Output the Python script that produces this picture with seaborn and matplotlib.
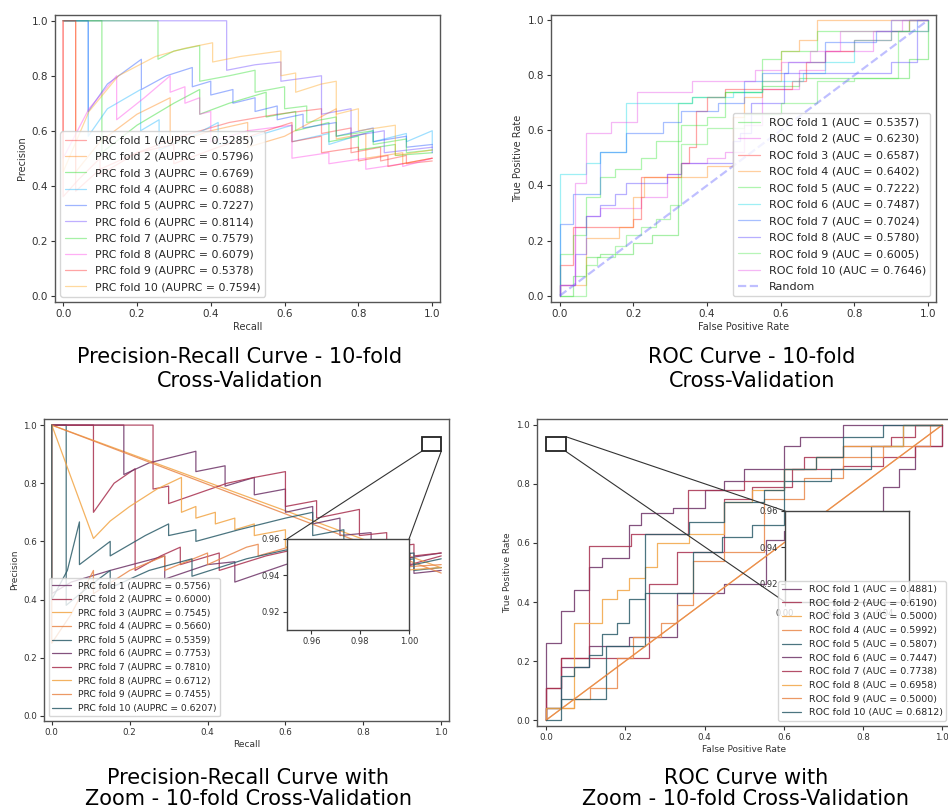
import matplotlib.pyplot as plt
import seaborn as sns
from matplotlib.patches import Rectangle, ConnectionPatch
from matplotlib.ticker import MultipleLocator

# ---- fold scores (legend values) ----
tl_auprc = [0.5285, 0.5796, 0.6769, 0.6088, 0.7227, 0.8114, 0.7579, 0.6079, 0.5378, 0.7594]
tr_auc = [0.5357, 0.6230, 0.6587, 0.6402, 0.7222, 0.7487, 0.7024, 0.5780, 0.6005, 0.7646]
bl_auprc = [0.5756, 0.6000, 0.7545, 0.5660, 0.5359, 0.7753, 0.7810, 0.6712, 0.7455, 0.6207]
br_auc = [0.4881, 0.6190, 0.5000, 0.5992, 0.5807, 0.7447, 0.7738, 0.6958, 0.5000, 0.6812]

# ---- top left: precision-recall, 10 folds ----
tl_recall = [
    [0, 0, 0.04, 0.10, 0.10, 0.20, 0.32, 0.45, 0.58, 0.70, 0.70, 0.78, 0.78, 0.86, 0.86, 0.93, 0.93, 1.0],
    [0, 0.034, 0.034, 0.10, 0.20, 0.29, 0.29, 0.40, 0.50, 0.50, 0.60, 0.74, 0.74, 0.82, 0.82, 0.92, 0.92, 1.0],
    [0, 0.105, 0.105, 0.20, 0.30, 0.37, 0.37, 0.45, 0.55, 0.55, 0.63, 0.63, 0.72, 0.72, 0.80, 0.80, 0.90, 0.90, 1.0],
    [0, 0.068, 0.068, 0.12, 0.21, 0.21, 0.26, 0.26, 0.35, 0.42, 0.42, 0.52, 0.62, 0.62, 0.72, 0.72, 0.84, 0.84, 0.93, 0.93, 1.0, 1.0],
    [0, 0.068, 0.068, 0.12, 0.212, 0.212, 0.28, 0.35, 0.35, 0.40, 0.40, 0.46, 0.46, 0.52, 0.52, 0.58, 0.58, 0.65, 0.65,
     0.74, 0.74, 0.84, 0.84, 0.93, 0.93, 1.0, 1.0],
    [0, 0.443, 0.443, 0.52, 0.59, 0.59, 0.70, 0.70, 0.78, 0.78, 0.87, 0.87, 1.0],
    [0, 0.257, 0.257, 0.30, 0.37, 0.37, 0.45, 0.52, 0.52, 0.60, 0.60, 0.66, 0.66, 0.74, 0.74, 0.84, 0.84, 0.93, 0.93, 1.0],
    [0, 0, 0.07, 0.145, 0.145, 0.22, 0.29, 0.29, 0.33, 0.33, 0.37, 0.37, 0.40, 0.40, 0.50, 0.62, 0.62, 0.72, 0.72, 0.82,
     0.82, 0.92, 0.92, 1.0],
    [0, 0.034, 0.034, 0.10, 0.20, 0.30, 0.30, 0.42, 0.55, 0.62, 0.62, 0.70, 0.70, 0.80, 0.80, 0.88, 0.88, 1.0],
    [0, 0, 0.07, 0.15, 0.25, 0.33, 0.405, 0.405, 0.48, 0.59, 0.59, 0.63, 0.63, 0.70, 0.74, 0.74, 0.80, 0.80, 0.90, 0.90, 1.0],
]
tl_precision = [
    [1.0, 0.36, 0.42, 0.50, 0.44, 0.52, 0.58, 0.63, 0.66, 0.68, 0.59, 0.61, 0.52, 0.54, 0.49, 0.51, 0.48, 0.49],
    [1.0, 1.0, 0.45, 0.56, 0.66, 0.72, 0.55, 0.60, 0.63, 0.54, 0.58, 0.68, 0.57, 0.59, 0.50, 0.52, 0.48, 0.50],
    [1.0, 1.0, 0.52, 0.62, 0.70, 0.75, 0.66, 0.70, 0.74, 0.65, 0.67, 0.60, 0.63, 0.56, 0.58, 0.53, 0.55, 0.51, 0.52],
    [1.0, 1.0, 0.58, 0.68, 0.75, 0.60, 0.64, 0.53, 0.58, 0.63, 0.55, 0.58, 0.62, 0.56, 0.59, 0.55, 0.60, 0.56, 0.59, 0.56, 0.60, 0.55],
    [1.0, 1.0, 0.67, 0.77, 0.86, 0.75, 0.80, 0.83, 0.76, 0.78, 0.73, 0.75, 0.70, 0.72, 0.67, 0.69, 0.64, 0.66, 0.61,
     0.63, 0.58, 0.61, 0.56, 0.58, 0.54, 0.55, 0.52],
    [1.0, 1.0, 0.82, 0.84, 0.85, 0.78, 0.80, 0.66, 0.68, 0.58, 0.60, 0.52, 0.54],
    [1.0, 1.0, 0.86, 0.89, 0.91, 0.78, 0.80, 0.82, 0.74, 0.76, 0.68, 0.69, 0.63, 0.65, 0.58, 0.60, 0.55, 0.57, 0.52, 0.53],
    [1.0, 0.50, 0.68, 0.80, 0.64, 0.72, 0.80, 0.74, 0.76, 0.70, 0.72, 0.66, 0.67, 0.56, 0.60, 0.62, 0.50, 0.52, 0.48, 0.50,
     0.46, 0.48, 0.47, 0.50],
    [1.0, 1.0, 0.38, 0.46, 0.52, 0.55, 0.48, 0.54, 0.60, 0.63, 0.56, 0.58, 0.52, 0.54, 0.49, 0.51, 0.47, 0.50],
    [1.0, 0.45, 0.67, 0.80, 0.87, 0.90, 0.92, 0.85, 0.87, 0.89, 0.80, 0.81, 0.74, 0.77, 0.78, 0.66, 0.68, 0.60, 0.62, 0.51, 0.53],
]

# ---- top right: ROC, 10 folds (corners of the staircase, step drawn before each point) ----
tr_fpr = [
    [0, 0.035, 0.07, 0.11, 0.20, 0.25, 0.32, 0.36, 0.45, 0.55, 0.65, 0.75, 0.95, 1.0, 1.0],
    [0, 0.04, 0.07, 0.11, 0.22, 0.29, 0.33, 0.40, 0.45, 0.50, 0.55, 0.65, 0.72, 0.85, 0.93, 1.0],
    [0, 0.035, 0.20, 0.22, 0.33, 0.35, 0.37, 0.40, 0.45, 0.63, 0.67, 0.72, 0.80, 0.90, 0.95, 1.0],
    [0, 0.07, 0.16, 0.20, 0.23, 0.40, 0.47, 0.50, 0.55, 0.60, 0.65, 0.70, 1.0],
    [0, 0.035, 0.07, 0.11, 0.15, 0.22, 0.26, 0.33, 0.40, 0.45, 0.55, 0.60, 0.70, 0.78, 0.95, 1.0],
    [0, 0.07, 0.11, 0.18, 0.36, 0.47, 0.55, 0.66, 0.72, 0.80, 0.90, 1.0],
    [0, 0.035, 0.11, 0.18, 0.28, 0.33, 0.43, 0.50, 0.55, 0.62, 0.72, 0.86, 0.97, 1.0],
    [0, 0.04, 0.07, 0.11, 0.15, 0.18, 0.29, 0.33, 0.47, 0.49, 0.52, 0.61, 0.78, 0.90, 0.97, 1.0, 1.0],
    [0, 0.07, 0.10, 0.15, 0.18, 0.22, 0.26, 0.30, 0.33, 0.40, 0.50, 0.60, 0.70, 0.80, 0.92, 1.0, 1.0],
    [0, 0.04, 0.07, 0.14, 0.21, 0.36, 0.53, 0.60, 0.68, 0.76, 0.90, 1.0],
]
tr_tpr = [
    [0, 0.0, 0.07, 0.14, 0.15, 0.19, 0.22, 0.70, 0.72, 0.74, 0.76, 0.79, 0.79, 0.86, 1.0],
    [0, 0.04, 0.25, 0.29, 0.32, 0.36, 0.44, 0.48, 0.50, 0.52, 0.62, 0.75, 0.82, 0.89, 0.96, 1.0],
    [0, 0.11, 0.25, 0.28, 0.43, 0.48, 0.54, 0.67, 0.72, 0.75, 0.78, 0.85, 0.89, 0.93, 0.96, 1.0],
    [0, 0.04, 0.21, 0.25, 0.36, 0.43, 0.47, 0.65, 0.72, 0.78, 0.89, 0.93, 1.0],
    [0, 0.15, 0.22, 0.36, 0.43, 0.46, 0.50, 0.56, 0.62, 0.65, 0.74, 0.86, 0.89, 0.96, 0.96, 1.0],
    [0, 0.44, 0.48, 0.52, 0.70, 0.72, 0.74, 0.78, 0.81, 0.85, 0.93, 1.0],
    [0, 0.26, 0.37, 0.52, 0.59, 0.63, 0.67, 0.70, 0.78, 0.81, 0.85, 0.92, 0.96, 1.0],
    [0, 0.04, 0.15, 0.29, 0.33, 0.37, 0.41, 0.44, 0.48, 0.56, 0.59, 0.70, 0.81, 0.81, 0.85, 0.96, 1.0],
    [0, 0.0, 0.11, 0.14, 0.18, 0.22, 0.25, 0.28, 0.33, 0.55, 0.61, 0.66, 0.70, 0.78, 0.79, 0.96, 1.0],
    [0, 0.04, 0.41, 0.59, 0.63, 0.74, 0.78, 0.82, 0.85, 0.89, 0.96, 1.0],
]

# ---- bottom left: precision-recall with zoom ----
bl_recall = [
    [0, 0, 0.05, 0.15, 0.29, 0.29, 0.40, 0.47, 0.47, 0.60, 0.70, 0.75, 0.75, 0.85, 0.85, 0.93, 0.93, 1.0],
    [0, 0.107, 0.107, 0.16, 0.214, 0.214, 0.28, 0.33, 0.33, 0.43, 0.43, 0.55, 0.65, 0.70, 0.70, 0.80, 0.80, 0.92, 0.92, 1.0],
    [0, 1.0],
    [0, 0, 0.05, 0.107, 0.107, 0.20, 0.29, 0.29, 0.40, 0.40, 0.50, 0.53, 0.53, 0.66, 0.66, 0.78, 0.78, 0.88, 0.88, 1.0],
    [0, 0.037, 0.037, 0.10, 0.15, 0.15, 0.25, 0.36, 0.36, 0.50, 0.60, 0.70, 0.70, 0.82, 0.82, 0.93, 0.93, 1.0],
    [0, 0.185, 0.185, 0.25, 0.37, 0.37, 0.445, 0.445, 0.52, 0.52, 0.60, 0.60, 0.67, 0.67, 0.74, 0.74, 0.82, 0.82, 0.90, 0.90, 1.0],
    [0, 0.26, 0.26, 0.30, 0.30, 0.45, 0.52, 0.60, 0.60, 0.68, 0.68, 0.79, 0.79, 0.86, 0.86, 0.93, 0.93, 1.0],
    [0, 0.107, 0.15, 0.20, 0.27, 0.333, 0.333, 0.37, 0.37, 0.42, 0.42, 0.47, 0.47, 0.52, 0.52, 0.60, 0.60, 0.68, 0.68,
     0.78, 0.78, 0.90, 0.90, 1.0],
    [0, 1.0],
    [0, 0, 0.04, 0.071, 0.071, 0.15, 0.15, 0.24, 0.30, 0.30, 0.37, 0.37, 0.48, 0.60, 0.67, 0.67, 0.75, 0.75, 0.86, 0.86,
     0.93, 0.93, 1.0],
]
bl_precision = [
    [1.0, 0.42, 0.46, 0.50, 0.55, 0.47, 0.52, 0.53, 0.46, 0.52, 0.56, 0.58, 0.52, 0.54, 0.50, 0.52, 0.49, 0.50],
    [1.0, 1.0, 0.70, 0.80, 0.85, 0.50, 0.55, 0.58, 0.52, 0.56, 0.50, 0.55, 0.58, 0.59, 0.55, 0.58, 0.53, 0.56, 0.52, 0.55],
    [1.0, 0.509],
    [1.0, 0.25, 0.35, 0.50, 0.42, 0.50, 0.55, 0.50, 0.56, 0.52, 0.58, 0.59, 0.55, 0.60, 0.56, 0.59, 0.54, 0.56, 0.51, 0.52],
    [1.0, 1.0, 0.38, 0.45, 0.50, 0.44, 0.50, 0.54, 0.48, 0.54, 0.57, 0.58, 0.54, 0.56, 0.52, 0.54, 0.50, 0.51],
    [1.0, 1.0, 0.83, 0.87, 0.91, 0.84, 0.86, 0.79, 0.82, 0.76, 0.78, 0.70, 0.72, 0.66, 0.68, 0.62, 0.63, 0.58, 0.60, 0.54, 0.56],
    [1.0, 1.0, 0.78, 0.79, 0.73, 0.80, 0.82, 0.84, 0.72, 0.74, 0.68, 0.71, 0.62, 0.63, 0.58, 0.59, 0.55, 0.56],
    [1.0, 0.61, 0.67, 0.72, 0.78, 0.82, 0.70, 0.72, 0.68, 0.70, 0.66, 0.68, 0.64, 0.66, 0.62, 0.64, 0.58, 0.60, 0.54,
     0.56, 0.52, 0.54, 0.50, 0.51],
    [1.0, 0.491],
    [1.0, 0.40, 0.50, 0.667, 0.52, 0.60, 0.55, 0.62, 0.66, 0.62, 0.64, 0.60, 0.64, 0.68, 0.70, 0.62, 0.64, 0.58, 0.60, 0.55,
     0.56, 0.52, 0.54],
]

# ---- bottom right: ROC with zoom ----
br_fpr = [
    [0, 0.037, 0.108, 0.14, 0.21, 0.33, 0.45, 0.555, 0.60, 0.70, 0.85, 0.89, 0.93, 1.0, 1.0],
    [0, 0.037, 0.11, 0.26, 0.33, 0.37, 0.45, 0.52, 0.62, 0.75, 0.85, 0.93, 0.97, 1.0, 1.0],
    [0, 1.0],
    [0, 0.07, 0.11, 0.18, 0.22, 0.29, 0.33, 0.37, 0.45, 0.55, 0.65, 0.75, 0.85, 0.97, 1.0],
    [0, 0.037, 0.15, 0.25, 0.37, 0.445, 0.52, 0.60, 0.72, 0.82, 0.90, 1.0],
    [0, 0.037, 0.07, 0.108, 0.14, 0.21, 0.24, 0.32, 0.40, 0.45, 0.50, 0.60, 0.64, 0.75, 1.0],
    [0, 0.037, 0.108, 0.214, 0.357, 0.50, 0.60, 0.65, 0.75, 0.87, 0.93, 1.0],
    [0, 0.07, 0.14, 0.18, 0.21, 0.25, 0.28, 0.36, 0.45, 0.52, 0.60, 0.68, 0.75, 0.90, 1.0],
    [0, 1.0],
    [0, 0.037, 0.07, 0.108, 0.14, 0.18, 0.21, 0.25, 0.36, 0.45, 0.55, 0.60, 0.68, 0.75, 0.85, 1.0],
]
br_tpr = [
    [0, 0.04, 0.18, 0.25, 0.25, 0.28, 0.43, 0.46, 0.61, 0.64, 0.70, 0.79, 0.85, 0.93, 1.0],
    [0, 0.11, 0.21, 0.21, 0.46, 0.57, 0.57, 0.75, 0.79, 0.85, 0.86, 0.89, 0.93, 0.93, 1.0],
    [0, 1.0],
    [0, 0.04, 0.07, 0.11, 0.21, 0.28, 0.33, 0.39, 0.54, 0.57, 0.75, 0.82, 0.89, 0.93, 1.0],
    [0, 0.04, 0.07, 0.25, 0.43, 0.57, 0.62, 0.66, 0.81, 0.85, 0.93, 1.0],
    [0, 0.26, 0.37, 0.44, 0.52, 0.55, 0.66, 0.70, 0.72, 0.78, 0.81, 0.85, 0.93, 0.96, 1.0],
    [0, 0.11, 0.21, 0.59, 0.63, 0.78, 0.81, 0.85, 0.89, 0.93, 0.96, 1.0],
    [0, 0.04, 0.33, 0.41, 0.44, 0.48, 0.52, 0.60, 0.63, 0.74, 0.78, 0.85, 0.89, 0.93, 1.0],
    [0, 1.0],
    [0, 0.0, 0.15, 0.18, 0.22, 0.29, 0.33, 0.41, 0.63, 0.67, 0.74, 0.78, 0.85, 0.89, 0.96, 1.0],
]

# zoom windows (x range, y range)
bl_zoom = [(0.95, 1.0), (0.91, 0.96)]
br_zoom = [(0.0, 0.05), (0.91, 0.96)]

captions = [
    ("Precision-Recall Curve - 10-fold", "Cross-Validation"),
    ("ROC Curve - 10-fold", "Cross-Validation"),
    ("Precision-Recall Curve with", "Zoom - 10-fold Cross-Validation"),
    ("ROC Curve with", "Zoom - 10-fold Cross-Validation"),
]

tl_colors = ['#ff2626', '#ff7f00', '#0fd70f', '#0fb1ff', '#1146ff', '#6139ff', '#22dd22', '#ff39e6', '#ff1c1c', '#ffa011']
tr_colors = ['#25d925', '#e646e6', '#ff1c1c', '#ff8911', '#39e639', '#11d9e6', '#2561ff', '#4d39ff', '#4de64d', '#e64de6']
bottom_cycle = ['#6e3468', '#a8304f', '#f2a545', '#e9874a', '#2c5d6a']
bottom_colors = bottom_cycle * 2

sns.set_theme(style='ticks')
plt.rcParams['font.family'] = ['DejaVu Sans']

W, H = 948, 807
fig = plt.figure(figsize=(W / 100, H / 100), dpi=100)


def box(left, top, right, bottom):
    return [left / W, 1 - bottom / H, (right - left) / W, (bottom - top) / H]


def draw_folds(ax, xs, ys, colors, labels, alpha, steps):
    for x, y, c, lab in zip(xs, ys, colors, labels):
        ds = 'steps-pre' if steps and len(x) > 2 else 'default'
        sns.lineplot(x=x, y=y, sort=False, estimator=None, color=c, alpha=alpha,
                     linewidth=0.9, drawstyle=ds, label=lab, ax=ax)


def style_axes(ax, xlim, ylim, xlabel, ylabel, tick_fs, label_fs):
    ax.set_xlim(xlim)
    ax.set_ylim(ylim)
    ticks = [0.0, 0.2, 0.4, 0.6, 0.8, 1.0]
    ax.set_xticks(ticks)
    ax.set_yticks(ticks)
    ax.tick_params(labelsize=tick_fs, length=3, width=0.8, pad=2, colors='#333333')
    ax.set_xlabel(xlabel, fontsize=label_fs, labelpad=2, color='#333333')
    ax.set_ylabel(ylabel, fontsize=label_fs, labelpad=3, color='#333333')
    for sp in ax.spines.values():
        sp.set_color('#555555')
        sp.set_linewidth(1.0)


def add_zoom(ax, bounds, zoom, xs, ys, colors, alpha, steps, links):
    axins = ax.inset_axes(bounds, transform=fig.transFigure)
    draw_folds(axins, xs, ys, colors, [None] * len(xs), alpha, steps)
    axins.set_xlim(zoom[0])
    axins.set_ylim(zoom[1])
    axins.xaxis.set_major_locator(MultipleLocator(0.02))
    axins.yaxis.set_major_locator(MultipleLocator(0.02))
    axins.tick_params(labelsize=6, length=3, width=0.8, pad=2, colors='#333333')
    axins.set_xlabel('')
    axins.set_ylabel('')
    for sp in axins.spines.values():
        sp.set_color('#444444')
        sp.set_linewidth(1.0)
    (x0, x1), (y0, y1) = zoom
    ax.add_patch(Rectangle((x0, y0), x1 - x0, y1 - y0, fill=False, ec='#222222', lw=1.3, zorder=4))
    for a, b in links:
        con = ConnectionPatch(xyA=a, coordsA=ax.transData, xyB=b, coordsB=axins.transAxes,
                              color='#333333', lw=0.8, zorder=3)
        ax.add_artist(con)
    return axins


# top left
ax = fig.add_axes(box(55, 15, 440, 302))
draw_folds(ax, tl_recall, tl_precision, tl_colors,
           [f'PRC fold {i + 1} (AUPRC = {v:.4f})' for i, v in enumerate(tl_auprc)], 0.4, False)
style_axes(ax, (-0.022, 1.021), (-0.023, 1.021), 'Recall', 'Precision', 7.5, 7)
ax.legend(loc='lower left', fontsize=7.8, labelspacing=0.58)

# top right
ax = fig.add_axes(box(551, 15, 936, 302))
draw_folds(ax, tr_fpr, tr_tpr, tr_colors,
           [f'ROC fold {i + 1} (AUC = {v:.4f})' for i, v in enumerate(tr_auc)], 0.4, True)
sns.lineplot(x=[0, 1], y=[0, 1], color='#6161ff', alpha=0.4, linewidth=1.6, linestyle='--',
             label='Random', ax=ax)
style_axes(ax, (-0.024, 1.022), (-0.023, 1.019), 'False Positive Rate', 'True Positive Rate', 7.5, 7)
ax.legend(loc='lower right', fontsize=8, labelspacing=0.58)

# bottom left
ax = fig.add_axes(box(44, 419, 449, 721))
draw_folds(ax, bl_recall, bl_precision, bottom_colors,
           [f'PRC fold {i + 1} (AUPRC = {v:.4f})' for i, v in enumerate(bl_auprc)], 0.85, False)
style_axes(ax, (-0.02, 1.02), (-0.018, 1.021), 'Recall', 'Precision', 6.3, 6.5)
(zx0, zx1), (zy0, zy1) = bl_zoom
add_zoom(ax, box(287, 539, 409, 630), bl_zoom, bl_recall, bl_precision, bottom_colors, 0.85, False,
         [((zx0, zy0), (0, 1)), ((zx1, zy0), (1, 1))])
ax.legend(loc='lower left', fontsize=6.6)

# bottom right
ax = fig.add_axes(box(537, 419, 951, 726))
draw_folds(ax, br_fpr, br_tpr, bottom_colors,
           [f'ROC fold {i + 1} (AUC = {v:.4f})' for i, v in enumerate(br_auc)], 0.85, True)
style_axes(ax, (-0.023, 1.022), (-0.02, 1.02), 'False Positive Rate', 'True Positive Rate', 6.3, 6.5)
(zx0, zx1), (zy0, zy1) = br_zoom
add_zoom(ax, box(785, 511, 909, 602), br_zoom, br_fpr, br_tpr, bottom_colors, 0.85, True,
         [((zx1, zy1), (0, 1)), ((zx1, zy0), (0, 0))])
ax.legend(loc='lower right', fontsize=6.8)

# captions under each panel
caption_x = [240, 752, 248, 746]
caption_y = [(357, 381), (357, 381), (778, 799), (778, 799)]
for (l1, l2), cx, (y1, y2) in zip(captions, caption_x, caption_y):
    fig.text(cx / W, 1 - y1 / H, l1, ha='center', va='center', fontsize=15, color='black')
    fig.text(cx / W, 1 - y2 / H, l2, ha='center', va='center', fontsize=15, color='black')

fig.savefig('out.png', dpi=100)
